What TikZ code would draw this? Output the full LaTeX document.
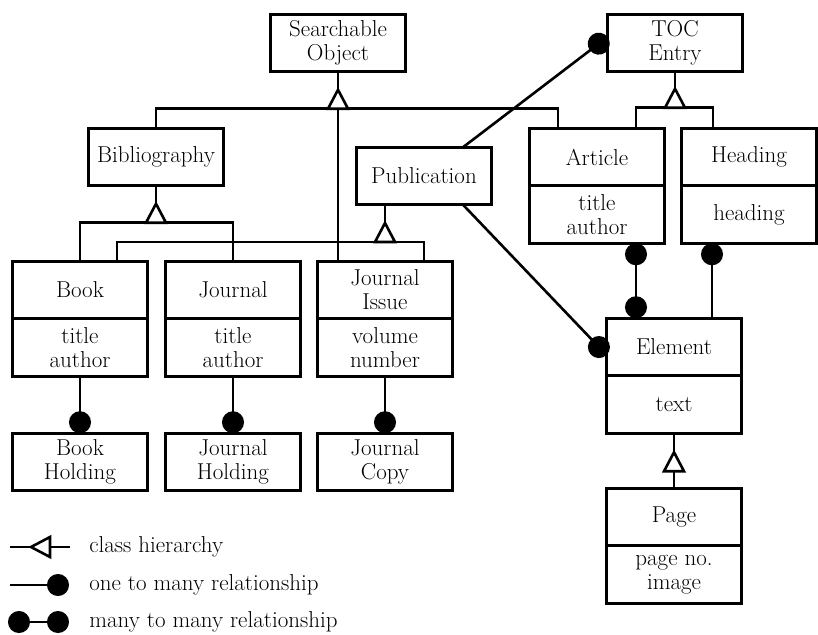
\documentclass[tikz,border=0pt]{standalone}
\usepackage{fontspec}
\usepackage{tikz}
\usetikzlibrary{positioning,arrows.meta,calc}

\tikzset{
  isa/.pic={\draw[fill=white] (-10,0) -- (0,-19) -- (10,0) -- cycle;}
}

\begin{document}
\begin{tikzpicture}[x=1pt, y=-1pt, line width=2.6pt,
% Style for the class boxes (name part and attribute part)
class/.style={
draw,
outer sep=0pt,
inner sep=2pt,
minimum width=135pt,
minimum height=57.5pt,
align=center,
font=\fontsize{23}{24}\selectfont
},
one/.style={-{Circle[length=22pt]}},
many/.style={{Circle[length=22pt]}-{Circle[length=22pt]}},
legend/.style={anchor=west, inner sep=0pt, font=\fontsize{23}{24}\selectfont}
]
\useasboundingbox (0,0) rectangle (818,634);

% Top level classes
\node[class] (so) at (338,43) {Searchable\\Object};
\node[class] (toc) at (675,43) {TOC\\Entry};
\node[class] (bib) at (156,157) {Bibliography};
\node[class] (pub) at (424,176) {Publication};

% Classes with attributes
\node[class] (article) at (597,157) {Article};
\node[class, below=0pt of article] (articleattr) {title\\author};
\node[class] (heading) at (749,157) {Heading};
\node[class, below=0pt of heading] (headingattr) {heading};
\node[class] (book) at (80,290) {Book};
\node[class, below=0pt of book] (bookattr) {title\\author};
\node[class] (journal) at (233,290) {Journal};
\node[class, below=0pt of journal] (journalattr) {title\\author};
\node[class] (issue) at (385,290) {Journal\\Issue};
\node[class, below=0pt of issue] (issueattr) {volume\\number};
\node[class] (element) at (674,347) {Element};
\node[class, below=0pt of element] (elementattr) {text};
\node[class] (page) at (674,517) {Page};
\node[class, below=0pt of page] (pageattr) {page no.\\image};

% Holdings
\node[class] (bookhold) at (80,462) {Book\\Holding};
\node[class] (jhold) at (233,462) {Journal\\Holding};
\node[class] (jcopy) at (385,462) {Journal\\Copy};

% Searchable Object hierarchy
\coordinate (soj) at ($(so.south)+(0,37)$);
\draw (bib.north) |- (soj) -| ([xshift=-39]article.north);
\draw (so.south) -- (soj) -- (so.south |- issue.north);
\pic at (soj) {isa};

% Bibliography hierarchy
\coordinate (bibj) at ($(bib.south)+(0,37)$);
\draw (book.north) |- (bibj) -| (journal.north);
\draw (bib.south) -- (bibj);
\pic at (bibj) {isa};

% Publication hierarchy
\coordinate (pubj) at (issue.north |- 0,242);
\draw ([xshift=37]book.north) |- (pubj) -| ([xshift=39]issue.north);
\draw (pub.south -| pubj) -- (pubj);
\pic at (pubj) {isa};

% TOC Entry hierarchy
\coordinate (tocj) at ($(toc.south)+(0,36)$);
\draw ([xshift=39]article.north) |- (tocj) -| ([xshift=-36]heading.north);
\draw (toc.south) -- (tocj);
\pic at (tocj) {isa};

% Element hierarchy
\coordinate (pagej) at ($(elementattr.south)+(0,38)$);
\draw (elementattr.south) -- (page.north);
\pic at (pagej) {isa};

% Relationships
\draw[one] (bookattr.south) -- (bookhold.north);
\draw[one] (journalattr.south) -- (jhold.north);
\draw[one] (issueattr.south) -- (jcopy.north);
\draw[one] ([xshift=39]pub.north) -- ([yshift=6]toc.west);
\draw[one] ([xshift=39]pub.south) -- ([yshift=-8]element.west);
\coordinate (ad) at ([xshift=39]articleattr.south);
\draw[many] (ad) -- (ad |- element.north);
\coordinate (hd) at ([xshift=-37]headingattr.south);
\draw[one] (hd |- element.north) -- (hd);

% Legend
\coordinate (h1) at (10,547);
\coordinate (h2) at (70,547);
\draw (h1) -- (h2);
\pic[rotate=90] at (50,547) {isa};
\node[legend] (lhier) at (88,547) {class hierarchy};
\coordinate (o1) at (10,585);
\coordinate (o2) at (69,585);
\draw[one] (o1) -- (o2);
\node[legend] (lone) at (88,585) {one to many relationship};
\coordinate (m1) at (8,622);
\coordinate (m2) at (69,622);
\draw[many] (m1) -- (m2);
\node[legend] (lmany) at (88,622) {many to many relationship};

\end{tikzpicture}
\end{document}
